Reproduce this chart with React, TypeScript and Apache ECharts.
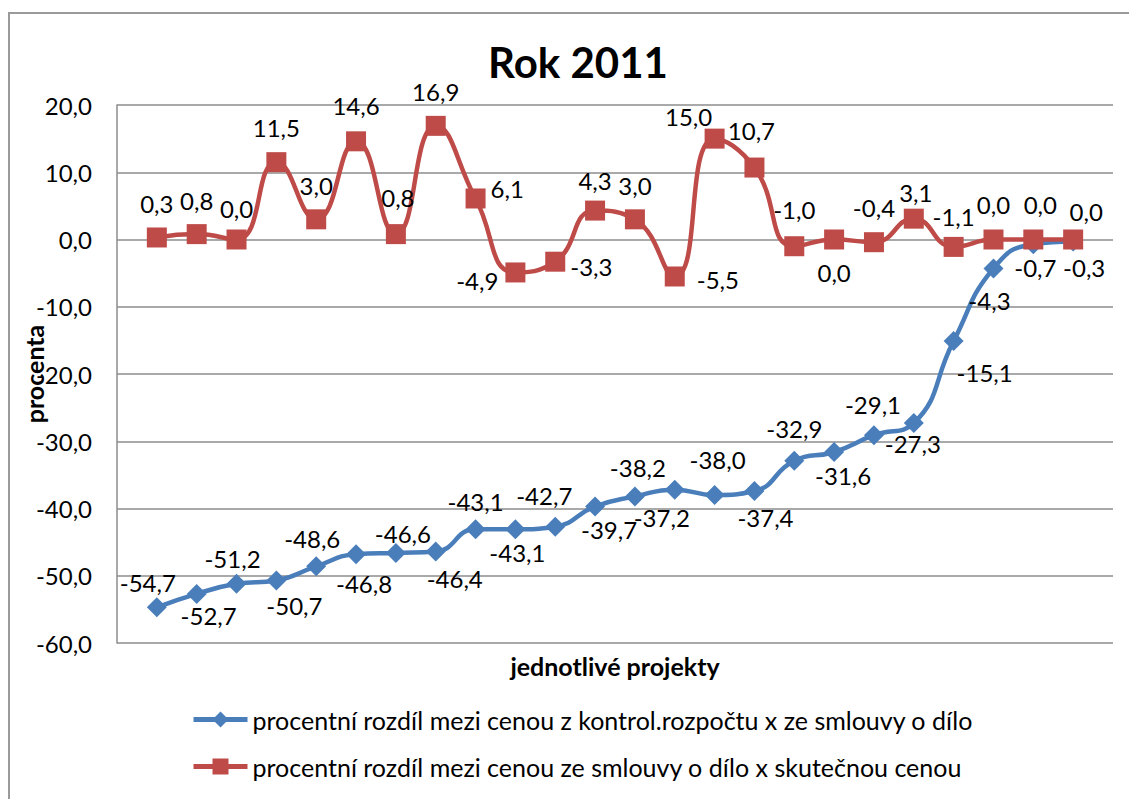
import React, { useEffect, useRef } from "react";
import * as echarts from "echarts";

const title = "Rok 2011";
const yAxisName = "procenta";
const xAxisName = "jednotlivé projekty";
const blueName = "procentní rozdíl mezi cenou z kontrol.rozpočtu x ze smlouvy o dílo";
const redName = "procentní rozdíl mezi cenou ze smlouvy o dílo x skutečnou cenou";

const blueValues = [
  -54.7, -52.7, -51.2, -50.7, -48.6, -46.8, -46.6, -46.4, -43.1, -43.1, -42.7, -39.7,
  -38.2, -37.2, -38.0, -37.4, -32.9, -31.6, -29.1, -27.3, -15.1, -4.3, -0.7, -0.3,
];
const redValues = [
  0.3, 0.8, 0.0, 11.5, 3.0, 14.6, 0.8, 16.9, 6.1, -4.9, -3.3, 4.3, 3.0, -5.5, 15.0, 10.7,
  -1.0, 0.0, -0.4, 3.1, -1.1, 0.0, 0.0, 0.0,
];

// label placement (style only)
const blueLabelPos: [string, number, number][] = [
  ["top", -9, 2], ["bottom", 12, -5], ["top", -4, 2], ["bottom", 18, -2], ["top", -4, -1],
  ["bottom", 8, 2], ["top", 7, 8], ["bottom", 19, 0], ["top", 0, -1], ["bottom", 2, -4],
  ["top", -11, -4], ["bottom", 14, -4], ["top", 3, -2], ["bottom", -13, 1], ["top", 3, -9],
  ["bottom", 11, -1], ["top", 0, -5], ["bottom", 9, -4], ["top", -1, -4], ["bottom", -1, -7],
  ["bottom", 31, 4], ["bottom", -4, 5], ["bottom", 2, -4], ["bottom", 11, -1],
];
const redLabelPos: [string, number, number][] = [
  ["top", 0, -7], ["top", 0, -7], ["top", 0, -4], ["top", 0, -8], ["top", 0, -7],
  ["top", 0, -9], ["top", 2, -10], ["top", 0, -7], ["right", 0, -10], ["left", -2, 8],
  ["right", 0, 5], ["top", 0, -3], ["top", 0, -7], ["right", 7, 3], ["top", -26, 5],
  ["top", -3, -10], ["top", 0, -10], ["bottom", 0, 6], ["top", 0, -8], ["top", 2, 1],
  ["top", 0, -3], ["top", 0, -8], ["top", 7, -8], ["top", 13, -1],
];

const FONT = "Lato, 'Open Sans', sans-serif";
const fmt = (v: number) => v.toFixed(1).replace(".", ",");

export default function App() {
  const ref = useRef<HTMLDivElement>(null);
  useEffect(() => {
    if (!ref.current) return;
    const chart = echarts.init(ref.current, undefined, { renderer: "svg" });
    const mk = (vals: number[], pos: [string, number, number][]) =>
      vals.map((v, i) => ({
        value: [i + 1, v],
        label: { position: pos[i][0], offset: [pos[i][1], pos[i][2]] },
      }));
    const labelStyle = {
      show: true,
      fontSize: 24,
      color: "#000",
      fontFamily: FONT,
      formatter: (p: any) => fmt(p.value[1]),
    };
    chart.setOption({
      animation: false,
      textStyle: { fontFamily: FONT },
      title: {
        text: title,
        left: 573,
        top: 36,
        textAlign: "center",
        textStyle: { fontSize: 42, fontWeight: "bold", color: "#000", fontFamily: FONT },
      },
      graphic: [
        {
          type: "rect",
          shape: { x: 9, y: 13, width: 1130, height: 800 },
          style: { fill: "none", stroke: "#9a9a9a", lineWidth: 2 },
          silent: true,
        },
      ],
      grid: {
        left: 117,
        top: 105,
        right: 16,
        bottom: 156,
        containLabel: false,
        outerBoundsMode: "none",
      },
      legend: {
        orient: "vertical",
        left: 191,
        top: 707,
        padding: 0,
        itemGap: 22,
        itemWidth: 54,
        itemHeight: 20,
        lineStyle: { width: 5 },
        textStyle: { fontSize: 25, color: "#000", fontFamily: FONT },
        data: [blueName, redName],
      },
      xAxis: {
        type: "value",
        min: 0,
        max: 25,
        name: xAxisName,
        nameLocation: "middle",
        nameGap: 10,
        nameMoveOverlap: false,
        nameTextStyle: { fontSize: 25, fontWeight: "bold", color: "#000", fontFamily: FONT },
        axisLine: { show: false },
        axisTick: { show: false },
        axisLabel: { show: false },
        splitLine: { show: false },
      },
      yAxis: {
        type: "value",
        min: -60,
        max: 20,
        interval: 10,
        name: yAxisName,
        nameLocation: "middle",
        nameRotate: 90,
        nameGap: 71,
        nameMoveOverlap: false,
        nameTextStyle: { fontSize: 25, fontWeight: "bold", color: "#000", fontFamily: FONT },
        axisLine: { show: true, lineStyle: { color: "#8c8c8c", width: 1.5 } },
        axisTick: { show: false },
        axisLabel: { fontSize: 24, color: "#000", margin: 25, fontFamily: FONT, formatter: (v: number) => fmt(v) },
        splitLine: { show: true, lineStyle: { color: "#8c8c8c", width: 1.5 } },
      },
      series: [
        {
          name: blueName,
          type: "line",
          smooth: 0.5,
          symbol: "diamond",
          symbolSize: 20,
          itemStyle: { color: "#4a7ebb" },
          lineStyle: { color: "#4a7ebb", width: 4.5 },
          label: labelStyle,
          data: mk(blueValues, blueLabelPos),
          z: 2,
        },
        {
          name: redName,
          type: "line",
          smooth: 0.5,
          symbol: "rect",
          symbolSize: 20,
          itemStyle: { color: "#be4b48" },
          lineStyle: { color: "#be4b48", width: 4.5 },
          label: labelStyle,
          data: mk(redValues, redLabelPos),
          z: 3,
        },
      ],
    });
    return () => chart.dispose();
  }, []);
  return (
    <div
      ref={ref}
      style={{ position: "absolute", left: 0, top: 0, width: 1129, height: 799, background: "#fff" }}
    />
  );
}
